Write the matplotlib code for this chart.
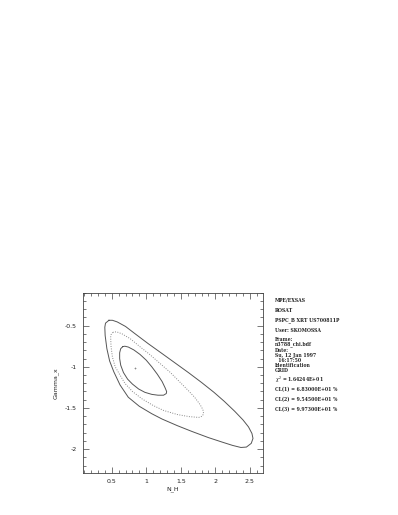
import numpy as np
import matplotlib
matplotlib.use('Agg')
import matplotlib.pyplot as plt
from matplotlib.ticker import MultipleLocator, FuncFormatter

# contour vertices (N_H, Gamma_x)
outerX = [0.46, 0.41, 0.40, 0.405, 0.43, 0.47, 0.53, 0.62, 0.74, 0.90, 1.08, 1.23, 1.45, 1.66, 1.90,
          2.10, 2.25, 2.37, 2.45, 2.52, 2.545, 2.53, 2.48, 2.40, 2.28, 2.13, 1.98, 1.80, 1.61, 1.42,
          1.23, 1.03, 0.84, 0.70, 0.58, 0.51, 0.46]
outerY = [-0.435, -0.47, -0.52, -0.62, -0.78, -0.93, -1.06, -1.22, -1.37, -1.48, -1.57, -1.635, -1.715, -1.785, -1.86,
          -1.915, -1.955, -1.98, -1.975, -1.93, -1.87, -1.81, -1.73, -1.645, -1.54, -1.42, -1.31, -1.19, -1.07, -0.955,
          -0.84, -0.72, -0.60, -0.51, -0.455, -0.435, -0.435]

midX = [0.52, 0.49, 0.485, 0.49, 0.51, 0.55, 0.62, 0.69, 0.80, 0.94, 1.10, 1.25, 1.45, 1.62, 1.76,
        1.81, 1.83, 1.82, 1.78, 1.70, 1.61, 1.48, 1.35, 1.20, 1.05, 0.90, 0.77, 0.65, 0.57, 0.52]
midY = [-0.58, -0.61, -0.64, -0.75, -0.88, -1.00, -1.10, -1.20, -1.30, -1.39, -1.47, -1.53, -1.58, -1.605, -1.615,
        -1.60, -1.57, -1.52, -1.46, -1.37, -1.29, -1.18, -1.07, -0.96, -0.85, -0.75, -0.66, -0.60, -0.575, -0.58]

innerX = [0.66, 0.63, 0.615, 0.615, 0.63, 0.67, 0.73, 0.80, 0.89, 0.98, 1.08, 1.17, 1.25,
          1.29, 1.295, 1.27, 1.23, 1.16, 1.08, 1.00, 0.91, 0.82, 0.74, 0.69, 0.66]
innerY = [-0.755, -0.78, -0.83, -0.90, -0.98, -1.07, -1.15, -1.21, -1.27, -1.31, -1.335, -1.345, -1.345,
          -1.325, -1.30, -1.25, -1.18, -1.09, -1.00, -0.92, -0.85, -0.795, -0.76, -0.75, -0.755]

bestFit = (0.84, -1.01)

infoLines = [
    (300, 'MPE/EXSAS'),
    (310.5, 'ROSAT'),
    (320.5, 'PSPC_B XRT US700811P'),
    (330.5, 'User: SKOMOSSA'),
    (339.5, 'Frame:'),
    (344.5, 'n3788_chi.bdf'),
    (350.5, 'Date:'),
    (355.3, 'Su, 12 Jan 1997'),
    (360, '  16:17:50'),
    (365.7, 'Identification'),
    (370.5, 'GRID'),
    (380, r'$\chi^2$ = 1.64244E+01'),
    (390, 'CL(1) = 6.83000E+01 %'),
    (400, 'CL(2) = 9.54500E+01 %'),
    (410, 'CL(3) = 9.97300E+01 %'),
]

W, H = 398, 515
fig = plt.figure(figsize=(W / 100, H / 100), dpi=100)
ax = fig.add_axes([82.7 / W, 1 - 473 / H, (263 - 82.7) / W, (473 - 292.7) / H])

cor = '#555555'
ax.plot(outerX, outerY, color=cor, lw=0.7)
ax.plot(midX, midY, color='#888888', lw=0.7, ls=(0, (1, 1.5)))
ax.plot(innerX, innerY, color=cor, lw=0.7)
ax.plot(*bestFit, marker='+', color='#888888', ms=2, mew=0.5)

ax.set_xlim(0.08, 2.69)
ax.set_ylim(-2.29, -0.1)
ax.xaxis.set_major_locator(MultipleLocator(0.5))
ax.xaxis.set_minor_locator(MultipleLocator(0.1))
ax.yaxis.set_major_locator(MultipleLocator(0.5))
ax.yaxis.set_minor_locator(MultipleLocator(0.1))
fmt = FuncFormatter(lambda v, p: ('%g' % v).replace('\u2212', '-'))
ax.xaxis.set_major_formatter(fmt)
ax.yaxis.set_major_formatter(fmt)
ax.tick_params(which='both', direction='in', top=True, right=True, labelsize=4.5,
               width=0.5, color='#444444', labelcolor='#222222', pad=4)
ax.tick_params(which='major', length=4)
ax.tick_params(which='minor', length=2)
for s in ax.spines.values():
    s.set_linewidth(0.6)
    s.set_color('#444444')

ax.set_xlabel('N_H', fontsize=4.5, labelpad=2, color='#222222')
ax.set_ylabel('Gamma_x', fontsize=4.5, labelpad=5, color='#222222')

for y, txt in infoLines:
    fig.text(275 / W, 1 - y / H, txt, fontsize=3.3, family='DejaVu Serif',
             weight='semibold', va='center', ha='left', color='#222222')

fig.savefig('out.png', dpi=100)
